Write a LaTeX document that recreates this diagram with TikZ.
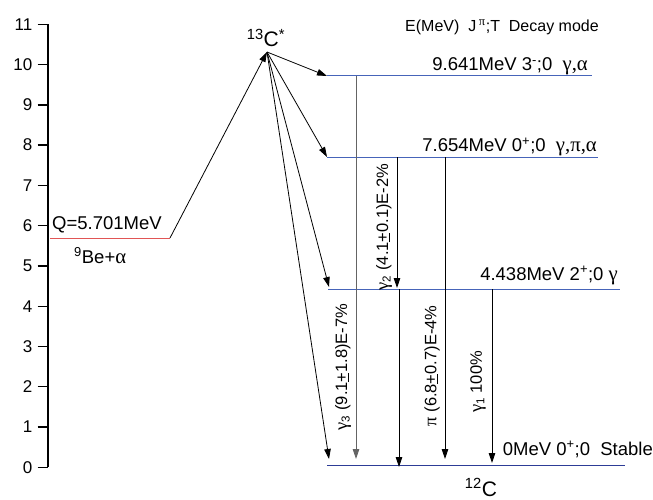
\documentclass[tikz,border=0pt]{standalone}
\usepackage{fontspec}
\setmainfont{Liberation Sans}
\newfontfamily\grk[Scale=1.12]{Liberation Serif}
\usetikzlibrary{arrows.meta}
\definecolor{lvlblue}{RGB}{70,100,185}
\definecolor{lvldark}{RGB}{45,60,150}
\definecolor{qred}{RGB}{225,85,85}
\definecolor{greyline}{RGB}{100,100,100}
\newcommand{\fA}{\fontsize{17}{19}\selectfont}
\newcommand{\fB}{\fontsize{18.5}{20}\selectfont}
\newcommand{\fC}{\fontsize{16.5}{18}\selectfont}
\newcommand{\fH}{\fontsize{16}{18}\selectfont}
\newcommand{\fD}{\fontsize{21}{23}\selectfont}
\newcommand{\g}[1]{{\grk #1}}
\tikzset{
  arr/.style={-{Triangle[length=10pt,width=6.5pt]}, line width=0.8pt, black},
  lvl/.style={line width=1pt, lvlblue},
  lbl/.style={inner sep=0pt, font=\fB},
  rlbl/.style={inner sep=0pt, font=\fC, rotate=90},
  ticklbl/.style={inner sep=0pt, font=\fA, anchor=east}
}
\begin{document}
\begin{tikzpicture}[x=1pt,y=-1pt]
\useasboundingbox (0,0) rectangle (653,500);
% axis
\draw[line width=2pt, line cap=butt] (48,24.3) -- (48,467.3);
\foreach \i in {0,...,11}{
  \pgfmathsetmacro{\yy}{467.3-40.27*\i}
  \draw[line width=1.3pt] (37.5,\yy) -- (48,\yy);
  \node[ticklbl] (t\i) at (32.5,\yy) {\i};
}
% Q level
\coordinate (q0) at (50,238);
\coordinate (q1) at (170,238);
\draw[qred, line width=1pt] (q0) -- (q1);
\node[lbl, anchor=base west] (qlab) at (52,229) {Q=5.701MeV};
\node[lbl, anchor=base west] (be) at (74,263) {\textsuperscript{9}Be+\g{α}};
% 13C*
\coordinate (apex) at (267,52);
\node[inner sep=0pt, font=\fD, anchor=base] (c13) at (266,47) {\textsuperscript{13}C\textsuperscript{*}};
\draw[arr] (q1) -- (apex);
% levels
\coordinate (l9a) at (327,76);  \coordinate (l9b) at (592,76);
\coordinate (l7a) at (327,157); \coordinate (l7b) at (598,157);
\coordinate (l4a) at (328,289); \coordinate (l4b) at (620,289);
\coordinate (l0a) at (327,465); \coordinate (l0b) at (625,465);
\draw[lvl] (l9a) -- (l9b);
\draw[lvl] (l7a) -- (l7b);
\draw[lvl] (l4a) -- (l4b);
\draw[line width=1pt, lvldark] (l0a) -- (l0b);
% level labels
\node[lbl, anchor=base east] (e9) at (588,71) {9.641MeV 3\textsuperscript{-};0\ \ \g{γ,α}};
\node[lbl, anchor=base east] (e7) at (597,152) {7.654MeV 0\textsuperscript{+};0\ \ \g{γ,π,α}};
\node[lbl, anchor=base east] (e4) at (618,280) {4.438MeV 2\textsuperscript{+};0 \g{γ}};
\node[lbl, anchor=base east] (e0) at (653,455) {0MeV 0\textsuperscript{+};0\ \ Stable};
\node[inner sep=0pt, font=\fH, anchor=base west] (hdr) at (405,32) {E(MeV)\ \ J\,\textsuperscript{\g{π}};T\ \ Decay mode};
\node[inner sep=0pt, font=\fD, anchor=base] (c12) at (481,496) {\textsuperscript{12}C};
% arrows from 13C*
\coordinate (d9) at (327,76);
\coordinate (d7) at (327,157);
\coordinate (d4) at (329,287);
\coordinate (d0) at (329,459);
\draw[arr] (apex) -- (d9);
\draw[arr] (apex) -- (d7);
\draw[arr] (apex) -- (d4);
\draw[arr] (apex) -- (d0);
% vertical transitions
\coordinate (g3a) at (356,76);  \coordinate (g3b) at (356,459);
\coordinate (g2a) at (397,157); \coordinate (g2b) at (397,288);
\coordinate (g1xa) at (399,289); \coordinate (g1xb) at (399,467);
\coordinate (pia) at (445,157); \coordinate (pib) at (445,459);
\coordinate (g1a) at (492,289); \coordinate (g1b) at (492,463);
\draw[arr, greyline] (g3a) -- (g3b);
\draw[arr] (g2a) -- (g2b);
\draw[arr] (g1xa) -- (g1xb);
\draw[arr] (pia) -- (pib);
\draw[arr] (g1a) -- (g1b);
% rotated labels
\node[rlbl] (lg3) at (343,367) {\g{γ}\textsubscript{3} (9.1\underline{+}1.8)E-7\%};
\node[rlbl] (lg2) at (384,227) {\g{γ}\textsubscript{2} (4.1\underline{+}0.1)E-2\%};
\node[rlbl] (lpi) at (432,366) {\g{π} (6.8\underline{+}0.7)E-4\%};
\node[rlbl] (lg1) at (478,382) {\g{γ}\textsubscript{1} 100\%};
\end{tikzpicture}
\end{document}
